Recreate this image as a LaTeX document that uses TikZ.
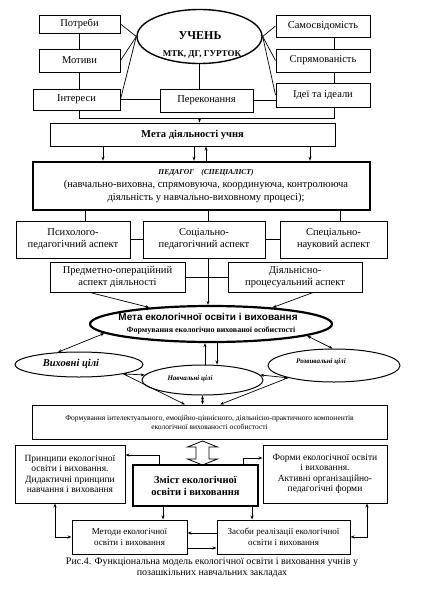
\documentclass[tikz,border=0pt]{standalone}
\usepackage{fontspec}
\setmainfont{Liberation Serif}
\newfontfamily\sansbf{Liberation Sans}
\usetikzlibrary{arrows.meta,shapes.geometric}

\tikzset{
	box/.style = {draw, line width=1pt, rectangle, align=center, inner sep=1pt, font=\fontsize{10.5}{12}\selectfont},
	thickbox/.style = {box, line width=2.6pt},
	oval/.style = {draw, ellipse, line width=1pt, inner sep=0pt},
	link/.style = {line width=0.7pt},
	arr/.style = {link, -{Stealth[length=4pt,width=3pt]}},
	darr/.style = {link, {Stealth[length=4pt,width=3pt]}-{Stealth[length=4pt,width=3pt]}},
	txt/.style = {inner sep=0pt, align=center}
}

\begin{document}
\begin{tikzpicture}[x=1pt,y=-1pt]
			\useasboundingbox[fill=white] (0,0) rectangle (437,595);
			\node[box, minimum width=81pt, minimum height=18pt] (potr) at (79.5,24) {Потреби};
			\node[box, minimum width=81pt, minimum height=23pt] (motiv) at (79.5,60.5) {Мотиви};
			\node[box, minimum width=87pt, minimum height=21pt] (inter) at (76.5,99.5) {Інтереси};
			\node[box, minimum width=94pt, minimum height=22pt] (samo) at (323,26) {Самосвідомість};
			\node[box, minimum width=94pt, minimum height=23pt] (sprjam) at (323,60.5) {Спрямованість};
			\node[box, minimum width=94pt, minimum height=24pt] (idei) at (323,95) {Ідеї та ідеали};
			\node[box, minimum width=93pt, minimum height=23pt] (perek) at (206.5,100.5) {Переконання};
			\node[oval, line width=1.4pt, minimum width=125pt, minimum height=54pt] (uchen) at (199.5,36.5) {};
			\node[txt, font=\fontsize{12}{14}\selectfont\bfseries] (uchent) at (200,36) {УЧЕНЬ};
			\node[txt, font=\fontsize{9}{10}\selectfont\bfseries] (mtk) at (202,54) {МТК, ДГ, ГУРТОК};
			\draw[link] (potr.east) -- (uchen.west);
			\draw[link] (motiv.east) -- (uchen.west);
			\draw[link] (inter.east) -- (uchen.west);
			\draw[link] (uchen.east) -- (samo.west);
			\draw[link] (uchen.east) -- (sprjam.west);
			\draw[link] (uchen.east) -- (idei.west);
			\draw[link] (potr) -- (motiv);
			\draw[link] (motiv.south) -- (motiv.south |- inter.north);
			\draw[link] ([xshift=11pt]samo.south) -- ([xshift=11pt]sprjam.north);
			\draw[link] ([xshift=11pt]sprjam.south) -- ([xshift=11pt]sprjam.south |- idei.north);
			\draw[link] (uchen.south) -- (uchen.south |- perek.north);
			\draw[link] (inter.east) -- (inter.east -| perek.west);
			\draw[link] (perek.east) -- (perek.east -| idei.west);

			\node[box, font=\fontsize{10.5}{12}\selectfont\bfseries, minimum width=285pt, minimum height=23pt] (meta) at (192.5,134.5) {Мета діяльності учня};
			\coordinate (brl) at ([yshift=-7.5pt]motiv.south |- inter.south);
			\draw[link] (motiv.south |- inter.south) -- (brl) -| ([xshift=11pt]idei.south);
			\draw[arr] (brl -| uchen.south) -- (uchen.south |- meta.north);

			\node[thickbox, minimum width=337pt, minimum height=48pt] (ped) at (201.5,186) {};
			\node[txt, font=\fontsize{10.5}{13}\selectfont] (pedt) at (206,186) {{\fontsize{7.5}{9}\selectfont\bfseries\itshape ПЕДАГОГ\quad(СПЕЦІАЛІСТ)}\\(навчально-виховна, спрямовуюча, координуюча, контролююча\\діяльність у навчально-виховному процесі);};
			\draw[arr] ([xshift=-89.5pt]meta.south) -- ([xshift=-89.5pt]meta.south |- ped.north);
			\draw[arr] ([xshift=1.5pt]meta.south) -- ([xshift=1.5pt]meta.south |- ped.north);
			\draw[arr] ([xshift=13.5pt]meta.south |- ped.north) -- ([xshift=13.5pt]meta.south);
			\draw[arr] ([xshift=117.5pt]meta.south) -- ([xshift=117.5pt]meta.south |- ped.north);

			\node[box, minimum width=114pt, minimum height=37pt] (psych) at (73,239.5) {Психолого-\\педагогічний аспект};
			\node[box, minimum width=122pt, minimum height=37pt] (soc) at (204,239.5) {Соціально-\\педагогічний аспект};
			\node[box, minimum width=107pt, minimum height=37pt] (spec) at (333.5,239.5) {Спеціально-\\науковий аспект};
			\draw[link] ([xshift=-116.5pt]ped.south) -- ([xshift=-116.5pt]ped.south |- psych.north);
			\draw[link] ([xshift=6.5pt]ped.south) -- ([xshift=6.5pt]ped.south |- soc.north);
			\draw[link] ([xshift=138.5pt]ped.south) -- ([xshift=138.5pt]ped.south |- spec.north);
			\draw[link] (psych.east) -- (soc.west);
			\draw[link] (soc.east) -- (spec.west);

			\node[box, minimum width=135pt, minimum height=30pt] (predm) at (117.5,277) {Предметно-операційний\\аспект діяльності};
			\node[box, minimum width=134pt, minimum height=30pt] (dijal) at (295,277) {Діяльнісно-\\процесуальний аспект};
			\draw[link] (predm.east) -- (dijal.west);

			\node[oval, line width=2.2pt, minimum width=242pt, minimum height=36pt] (metaeko) at (211,324) {};
			\node[txt, font=\sansbf\fontsize{10}{12}\selectfont\bfseries] (metaekot) at (208,317) {Мета екологічної освіти і виховання};
			\node[txt, font=\fontsize{8}{10}\selectfont\bfseries] (formosob) at (211,330) {Формування екологічно вихованої особистості};
			\draw[arr] ([xshift=4pt]soc.south) -- ([xshift=4pt]soc.south |- metaeko.north);
			\draw[arr] ([xshift=-27.5pt]predm.south) -- (metaeko.165);
			\draw[arr] ([xshift=18pt]dijal.south) -- (metaeko.15);

			\node[oval, minimum width=128pt, minimum height=25pt] (vykh) at (79,364.5) {};
			\node[txt, font=\fontsize{10.5}{12}\selectfont\bfseries\itshape] (vykht) at (71,364) {Виховні цілі};
			\node[oval, minimum width=121pt, minimum height=30pt] (navch) at (202.5,380) {};
			\node[txt, font=\fontsize{7}{8}\selectfont\bfseries\itshape] (navcht) at (190,379) {Навчальні цілі};
			\node[oval, minimum width=132pt, minimum height=33pt] (rozv) at (334,365.5) {};
			\node[txt, font=\fontsize{7}{8}\selectfont\bfseries\itshape] (rozvt) at (321,362) {Розвивальні цілі};
			\draw[darr] (metaeko.185) -- (vykh.150);
			\draw[darr] (metaeko.-7) -- (rozv.95);
			\draw[arr] ([xshift=2.5pt]navch.north) -- ([xshift=2.5pt]navch.north |- metaeko.south);
			\draw[arr] ([xshift=14.5pt]navch.north |- metaeko.south) -- ([xshift=14.5pt]navch.north);
			\draw[darr] (vykh.-12) -- (navch.175);
			\draw[darr] (rozv.195) -- (navch.5);

			\node[box, minimum width=355pt, minimum height=34pt, font=\fontsize{7.5}{9}\selectfont] (form) at (209.5,422) {Формування інтелектуального, емоційно-ціннісного, діяльнісно-практичного компонентів\\екологічної вихованості особистості};
			\draw[arr] (vykh.-12) -- ([xshift=-24.5pt]form.north);
			\draw[darr] (navch.south) -- (navch.south |- form.north);
			\draw[arr] (rozv.195) -- ([xshift=10.5pt]form.north);

			\node[box, minimum width=110pt, minimum height=58pt, font=\fontsize{9.5}{10.5}\selectfont] (princ) at (70,474) {Принципи екологічної\\освіти і виховання.\\Дидактичні принципи\\навчання і виховання};
			\node[box, minimum width=124pt, minimum height=58pt, font=\fontsize{9.5}{10.5}\selectfont] (formy) at (325,474) {Форми екологічної освіти\\і виховання.\\Активні організаційно-\\педагогічні форми};
			\coordinate (hol) at (202.5,453);
			\draw[line width=0.8pt] (hol) ++(0,-12) -- ++(15,6) -- ++(-8.5,0) -- ++(0,12) -- ++(8.5,0) -- ++(-15,6) -- ++(-15,-6) -- ++(8.5,0) -- ++(0,-12) -- ++(-8.5,0) -- cycle;
			\node[thickbox, minimum width=125pt, minimum height=41pt, font=\fontsize{10.5}{12}\selectfont\bfseries] (zmist) at (195.5,485.5) {Зміст екологічної\\освіти і виховання};
			\draw[arr] ([xshift=-36.5pt]zmist.north) |- ([yshift=19pt]princ.east);
			\draw[arr] ([xshift=47.5pt]zmist.north) |- ([yshift=16pt]formy.west);

			\node[box, minimum width=115pt, minimum height=34pt, font=\fontsize{9}{11}\selectfont] (metody) at (129.5,537) {Методи екологічної\\освіти і виховання};
			\node[box, minimum width=133pt, minimum height=34pt, font=\fontsize{9}{11}\selectfont] (zasoby) at (283.5,537) {Засоби реалізації екологічної\\освіти і виховання};
			\draw[arr] ([xshift=-32.5pt]zmist.south) -- ([xshift=-32.5pt]zmist.south |- metody.north);
			\draw[arr] ([xshift=56.5pt]zmist.south) -- ([xshift=56.5pt]zmist.south |- zasoby.north);
			\draw[darr] ([xshift=-15pt]princ.south) |- (metody.west);
			\draw[darr] ([xshift=42pt]formy.south) |- (zasoby.east);
			\draw[arr] ([yshift=4pt]zasoby.west) -- ([yshift=4pt]zasoby.west -| metody.east);
			\draw[arr] ([yshift=-11pt]metody.east) -- ([yshift=-11pt]metody.east -| zasoby.west);

			\node[txt, font=\fontsize{10}{11.5}\selectfont] (caption) at (212,567.5) {Рис.4. Функціональна модель екологічної освіти і виховання учнів у\\позашкільних навчальних закладах};
\end{tikzpicture}
\end{document}
